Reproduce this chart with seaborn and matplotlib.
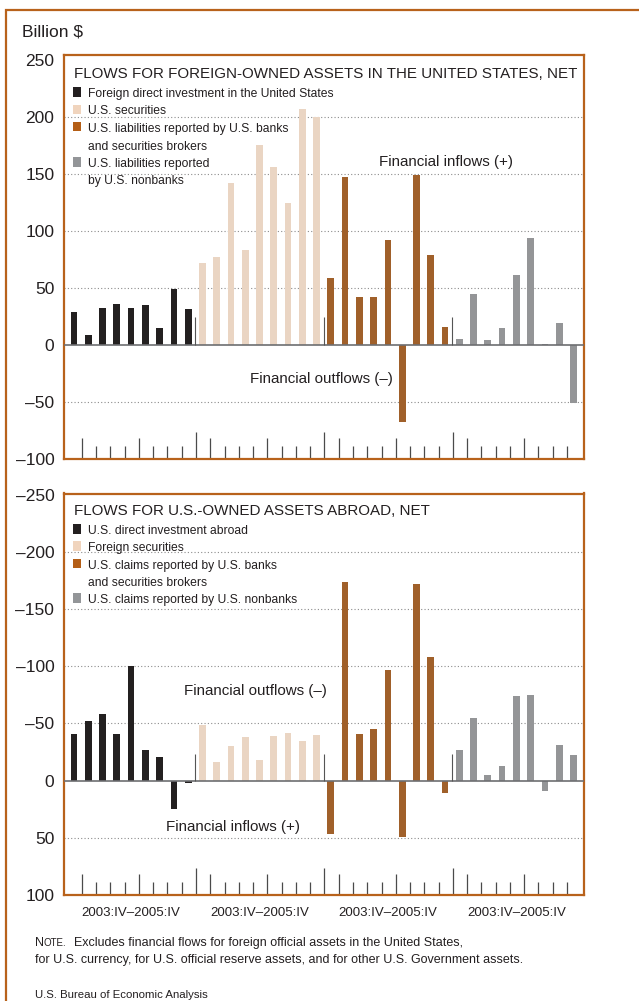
import numpy as np
import pandas as pd
import matplotlib
matplotlib.use("Agg")
import matplotlib.pyplot as plt
import seaborn as sns
from matplotlib.patches import Rectangle
from matplotlib.transforms import blended_transform_factory

# ---------------- data ----------------
quarters = ['2003:IV', '2004:I', '2004:II', '2004:III', '2004:IV',
            '2005:I', '2005:II', '2005:III', '2005:IV']
period_label = '2003:IV\u20132005:IV'

top_title = 'FLOWS FOR FOREIGN-OWNED ASSETS IN THE UNITED STATES, NET'
top_series = ['Foreign direct investment in the United States',
              'U.S. securities',
              'U.S. liabilities reported by U.S. banks and securities brokers',
              'U.S. liabilities reported by U.S. nonbanks']
top_legend_lines = [['Foreign direct investment in the United States'],
                    ['U.S. securities'],
                    ['U.S. liabilities reported by U.S. banks', 'and securities brokers'],
                    ['U.S. liabilities reported', 'by U.S. nonbanks']]
top_fdi = [29, 9, 32, 36, 32, 35, 15, 49, 31]
top_securities = [72, 77, 142, 83, 175, 156, 124, 207, 200]
top_banks = [59, 147, 42, 42, 92, -68, 149, 79, 16]
top_nonbanks = [5, 45, 4, 15, 61, 94, 1, 19, -51]

bot_title = 'FLOWS FOR U.S.-OWNED ASSETS ABROAD, NET'
bot_series = ['U.S. direct investment abroad',
              'Foreign securities',
              'U.S. claims reported by U.S. banks and securities brokers',
              'U.S. claims reported by U.S. nonbanks']
bot_legend_lines = [['U.S. direct investment abroad'],
                    ['Foreign securities'],
                    ['U.S. claims reported by U.S. banks', 'and securities brokers'],
                    ['U.S. claims reported by U.S. nonbanks']]
bot_dia = [-41, -52, -58, -41, -100, -27, -21, 25, 2]
bot_securities = [-49, -16, -30, -38, -18, -39, -42, -35, -40]
bot_banks = [47, -174, -41, -45, -97, 49, -172, -108, 11]
bot_nonbanks = [-27, -55, -5, -13, -74, -75, 9, -31, -22]

top_yticks = [-100, -50, 0, 50, 100, 150, 200, 250]
bot_yticks = [-250, -200, -150, -100, -50, 0, 50, 100]

colors = ['#231f20', '#f0d4bd', '#b45e16', '#939598']
FRAME = '#b8621b'
TXT = '#231f20'

# ---------------- style ----------------
sns.set_style('white')
plt.rcParams['font.family'] = ['Liberation Sans', 'DejaVu Sans']

W, H = 639, 1001
fig = plt.figure(figsize=(W / 100, H / 100), dpi=100)


def fx(px):
    return px / W


def fy(py):
    return 1 - py / H


AX_L, AX_R = 64, 584
TOP_T, TOP_B = 55, 459
BOT_T, BOT_B = 493.5, 895
ax1 = fig.add_axes([fx(AX_L), fy(TOP_B), (AX_R - AX_L) / W, (TOP_B - TOP_T) / H])
ax2 = fig.add_axes([fx(AX_L), fy(BOT_B), (AX_R - AX_L) / W, (BOT_B - BOT_T) / H])


def frame(series_names, arrays):
    rows = []
    for s, vals in zip(series_names, arrays):
        for q, v in zip(quarters, vals):
            rows.append({'slot': f'{s}|{q}', 'series': s, 'value': v})
    return pd.DataFrame(rows)


def fmt(v):
    return ('\u2013' + str(abs(v))) if v < 0 else str(v)


def draw_panel(ax, series_names, arrays, ylim, yticks, grid_vals, sep_top, ax_h_px):
    df = frame(series_names, arrays)
    sns.barplot(data=df, x='slot', y='value', hue='series',
                order=list(df['slot']), hue_order=series_names,
                palette=dict(zip(series_names, colors)), dodge=False,
                width=0.47, errorbar=None, legend=False,
                linewidth=0, ax=ax, zorder=3)
    ax.set_xlim(-0.70, 35.74)
    ax.set_ylim(*ylim)
    for g in grid_vals:
        ax.axhline(g, color='#8c8c8c', lw=0.8, ls=(0, (1, 2)), zorder=1)
    ax.axhline(0, color='#6d6e71', lw=1.2, zorder=4)
    # group separators near zero
    ax.vlines([8.45, 17.5, 26.5], 0, sep_top, color='#555555', lw=0.8, zorder=4)
    # bottom quarter ticks
    trans = blended_transform_factory(ax.transData, ax.transAxes)
    for i in range(35):
        if i in (8, 17, 26):
            hpx = 27
        elif i % 9 in (0, 4):
            hpx = 21
        else:
            hpx = 13
        ax.plot([i + 0.55, i + 0.55], [0, hpx / ax_h_px], transform=trans,
                color='#4a4a4a', lw=0.9, solid_capstyle='butt', zorder=2,
                clip_on=False)
    for sp in ax.spines.values():
        sp.set_color(FRAME)
        sp.set_linewidth(1.6)
        sp.set_visible(True)
    ax.set_yticks(yticks)
    ax.set_yticklabels([fmt(v) for v in yticks])
    ax.tick_params(axis='y', length=0, pad=7, labelsize=12.5, labelcolor=TXT)
    ax.set_xlabel('')
    ax.set_ylabel('')


draw_panel(ax1, top_series, [top_fdi, top_securities, top_banks, top_nonbanks],
           (-100, 254), top_yticks, [-50, 50, 100, 150, 200], 24, TOP_B - TOP_T)
ax1.set_xticks([])

draw_panel(ax2, bot_series, [bot_dia, bot_securities, bot_banks, bot_nonbanks],
           (100, -251), bot_yticks, [-200, -150, -100, -50, 50], -23, BOT_B - BOT_T)
ax2.set_xticks([4, 13, 22, 31])
ax2.set_xticklabels([period_label] * 4)
ax2.tick_params(axis='x', length=0, pad=9, labelsize=9.5, labelcolor=TXT)


# ---------------- texts ----------------
def ftext(x, yb, s, size, **kw):
    return fig.text(fx(x), fy(yb), s, fontsize=size, color=TXT,
                    ha='left', va='baseline', **kw)


# outer frame
fig.add_artist(Rectangle((fx(6), -0.1), 2, fy(10) + 0.1, transform=fig.transFigure,
                         fill=False, edgecolor=FRAME, lw=1.6))

ftext(22, 36.7, 'Billion $', 12.5)

# top legend
ftext(74, 78.3, top_title, 10.9)
top_rows = [97, 114.5, 132, 149.5, 167, 184.4]
r = 0
for lines, c in zip(top_legend_lines, colors):
    base = top_rows[r]
    fig.add_artist(Rectangle((fx(73), fy(base - 0.5)), 8 / W, 9 / H,
                             transform=fig.transFigure, facecolor=c, edgecolor='none'))
    for ln in lines:
        ftext(88, top_rows[r], ln, 8.7)
        r += 1

ftext(379, 166, 'Financial inflows (+)', 10.9)
ftext(250, 382.5, 'Financial outflows (\u2013)', 10.9)

# bottom legend
ftext(74, 515, bot_title, 10.9)
bot_rows = [534, 551, 568.5, 586, 603.3]
r = 0
for lines, c in zip(bot_legend_lines, colors):
    base = bot_rows[r]
    fig.add_artist(Rectangle((fx(73), fy(base - 0.5)), 8 / W, 9.5 / H,
                             transform=fig.transFigure, facecolor=c, edgecolor='none'))
    for ln in lines:
        ftext(88, bot_rows[r], ln, 8.7)
        r += 1

ftext(184, 695, 'Financial outflows (\u2013)', 10.9)
ftext(166, 830.5, 'Financial inflows (+)', 10.9)

# note with small caps
fig.canvas.draw()
rend = fig.canvas.get_renderer()
t1 = ftext(35, 946, 'N', 9)
x1 = t1.get_window_extent(renderer=rend).x1
t2 = fig.text(x1 / W, fy(946), 'OTE.', fontsize=7, color=TXT, ha='left', va='baseline')
x2 = t2.get_window_extent(renderer=rend).x1
fig.text(x2 / W, fy(946), '  Excludes financial flows for foreign official assets in the United States,',
         fontsize=9, color=TXT, ha='left', va='baseline')
ftext(35, 963, 'for U.S. currency, for U.S. official reserve assets, and for other U.S. Government assets.', 9)
ftext(35, 998, 'U.S. Bureau of Economic Analysis', 8.2)

fig.savefig('out.png', dpi=100)
